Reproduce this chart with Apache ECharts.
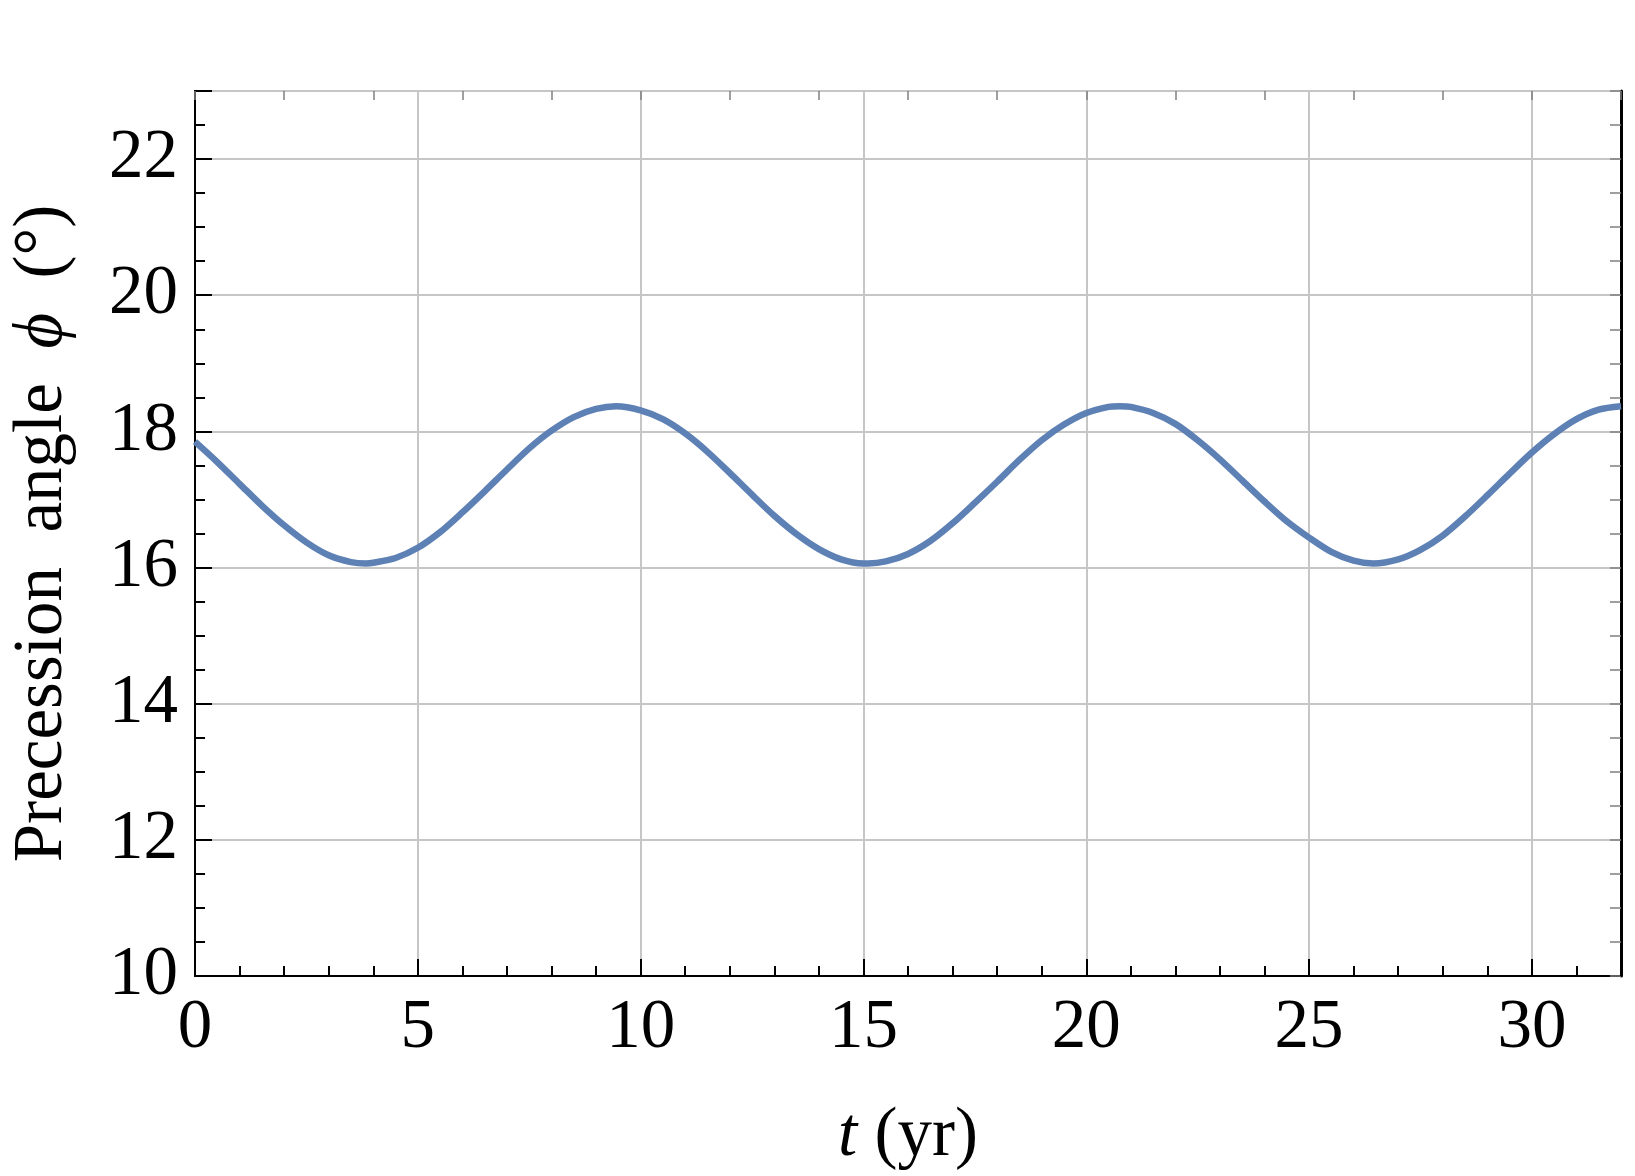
<!DOCTYPE html>
<html>
<head>
<meta charset="utf-8">
<script src="https://cdn.jsdelivr.net/npm/echarts@6/dist/echarts.min.js"></script>
<style>
html,body{margin:0;padding:0;background:#fff;}
#chart{width:1635px;height:1176px;}
</style>
</head>
<body>
<div id="chart"></div>
<script>
// time (yr)
const tValues = [0,0.5,1,1.5,2,2.5,3,3.5,3.84,4,4.5,5,5.5,6,6.5,7,7.5,8,8.5,9,9.45,10,10.5,11,11.5,12,12.5,13,13.5,14,14.5,15,15.1,15.5,16,16.5,17,17.5,18,18.5,19,19.5,20,20.5,20.75,21,21.5,22,22.5,23,23.5,24,24.5,25,25.5,26,26.44,27,27.5,28,28.5,29,29.5,30,30.5,31,31.5,32];
// precession angle phi (deg)
const phiValues = [17.85,17.55,17.23,16.91,16.62,16.37,16.18,16.08,16.06,16.07,16.14,16.29,16.52,16.81,17.12,17.44,17.75,18.01,18.21,18.33,18.37,18.31,18.18,17.97,17.70,17.39,17.07,16.76,16.49,16.27,16.12,16.06,16.06,16.09,16.20,16.39,16.65,16.95,17.26,17.58,17.87,18.10,18.27,18.36,18.37,18.36,18.27,18.11,17.87,17.59,17.28,16.97,16.68,16.44,16.23,16.10,16.06,16.12,16.26,16.47,16.75,17.06,17.38,17.69,17.96,18.18,18.32,18.37];
const xTickLabels = [0,5,10,15,20,25,30];
const yTickLabels = [10,12,14,16,18,20,22];

const FONT = "'Liberation Serif','Times New Roman',serif";
const chart = echarts.init(document.getElementById('chart'), null, {renderer:'canvas'});
const data = tValues.map((t,i)=>[t, phiValues[i]]);

const gridLine = {show:true, lineStyle:{color:'#c6c6c6', width:2}};
const option = {
  backgroundColor:'#ffffff',
  animation:false,
  grid:{left:186, right:14, top:91, bottom:199, show:true, borderColor:'#000', borderWidth:2, backgroundColor:'transparent'},
  xAxis:[
    {type:'value', min:0, max:32, interval:5, position:'bottom',
     axisLine:{show:true, onZero:false, lineStyle:{color:'#000', width:2}},
     axisTick:{show:true, inside:true, length:17, lineStyle:{color:'#000', width:2}},
     axisLabel:{show:true, margin:18, fontSize:69, fontFamily:FONT, color:'#000',
       formatter:(v)=> xTickLabels.indexOf(v)>=0 ? String(v) : ''},
     splitLine:gridLine,
     name:'{i|t} (yr)', nameLocation:'middle', nameGap:126,
     nameTextStyle:{fontSize:69, fontFamily:FONT, color:'#000',
       rich:{i:{fontStyle:'italic', fontSize:69, fontFamily:FONT, color:'#000'}}}
    },
    {type:'value', min:0, max:32, interval:1, position:'bottom',
     axisLine:{show:false, onZero:false},
     axisTick:{show:true, inside:true, length:10, lineStyle:{color:'#000', width:2}},
     axisLabel:{show:false}, splitLine:{show:false}},
    {type:'value', min:0, max:32, interval:2, position:'top',
     axisLine:{show:false, onZero:false},
     axisTick:{show:true, inside:true, length:9, lineStyle:{color:'#808080', width:1.5}},
     axisLabel:{show:false}, splitLine:{show:false}}
  ],
  yAxis:[
    {type:'value', min:10, max:23, interval:2, position:'left',
     axisLine:{show:true, onZero:false, lineStyle:{color:'#000', width:2}},
     axisTick:{show:true, inside:true, length:17, lineStyle:{color:'#000', width:2}},
     axisLabel:{show:true, margin:17, fontSize:69, fontFamily:FONT, color:'#000',
       formatter:(v)=> yTickLabels.indexOf(v)>=0 ? String(v) : ''},
     splitLine:gridLine,
     name:'Precession  angle  {i|ϕ}  (°)', nameLocation:'middle', nameGap:118,
     nameTextStyle:{fontSize:69, fontFamily:FONT, color:'#000',
       rich:{i:{fontStyle:'italic', fontSize:69, fontFamily:FONT, color:'#000'}}}
    },
    {type:'value', min:10, max:23, interval:0.5, position:'left',
     axisLine:{show:false, onZero:false},
     axisTick:{show:true, inside:true, length:10, lineStyle:{color:'#000', width:2}},
     axisLabel:{show:false}, splitLine:{show:false}},
    {type:'value', min:10, max:23, interval:0.5, position:'right',
     axisLine:{show:true, onZero:false, lineStyle:{color:'#000', width:3}},
     axisTick:{show:true, inside:true, length:11, lineStyle:{color:'#808080', width:1.5}},
     axisLabel:{show:false}, splitLine:{show:false}}
  ],
  series:[{
    type:'line', xAxisIndex:0, yAxisIndex:0, data:data,
    showSymbol:false, smooth:0.3,
    lineStyle:{color:'#5E81B5', width:6.5},
    itemStyle:{color:'#5E81B5'}
  }]
};
chart.setOption(option);
</script>
</body>
</html>
